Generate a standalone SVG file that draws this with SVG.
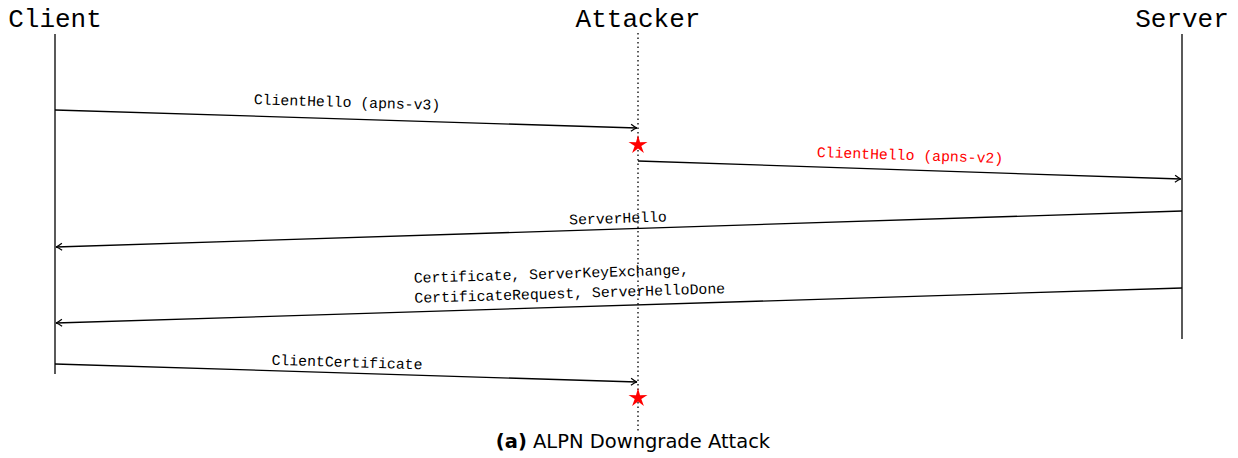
<svg xmlns="http://www.w3.org/2000/svg" width="1238" height="458" viewBox="0 0 1238 458">
<style>
.title{font-family:"Liberation Mono","DejaVu Sans Mono",monospace;font-size:26px;fill:#000}
.lbl{font-family:"Liberation Mono","DejaVu Sans Mono",monospace;font-size:14.8px;fill:#000}
.red{fill:#ff0000}
.life{stroke:#000;stroke-width:1.3;fill:none}
.dot{stroke:#000;stroke-width:1.3;stroke-dasharray:1.5 3;fill:none}
.msg{stroke:#000;stroke-width:1.3;fill:none;marker-end:url(#ah)}
.star{fill:#ff0000}
.cap{font-family:"DejaVu Sans","Liberation Sans",sans-serif;font-size:19.5px;fill:#000}
</style>
<defs>
<marker id="ah" viewBox="-8 -5 10 10" refX="0" refY="0" markerWidth="10" markerHeight="10" markerUnits="userSpaceOnUse" orient="auto">
<path d="M -6 -3.5 Q -2 -0.5 0 0 Q -2 0.5 -6 3.5" fill="none" stroke="#000" stroke-width="1.2"/>
</marker>
<polygon id="starshape" points="0,-10 2.0,-2.8 9.5,-3.1 3.3,1.1 5.9,8.1 0,3.5 -5.9,8.1 -3.3,1.1 -9.5,-3.1 -2.0,-2.8"/>
</defs>
<rect width="1238" height="458" fill="#fff"/>
<g id="client">
<text class="title" x="55" y="27" text-anchor="middle">Client</text>
<line class="life" x1="55" y1="34" x2="55" y2="374"/>
</g>
<g id="attacker">
<text class="title" x="638" y="27" text-anchor="middle">Attacker</text>
<line class="dot" x1="638" y1="33" x2="638" y2="432"/>
<use href="#starshape" class="star" x="638" y="145"/>
<use href="#starshape" class="star" x="638" y="398"/>
</g>
<g id="server">
<text class="title" x="1182" y="27" text-anchor="middle">Server</text>
<line class="life" x1="1182" y1="34" x2="1182" y2="339"/>
</g>
<g id="connectors">
<line class="msg" x1="55" y1="110" x2="637" y2="128"/>
<line class="msg" x1="638" y1="161" x2="1181" y2="179"/>
<line class="msg" x1="1182" y1="211" x2="56" y2="247"/>
<line class="msg" x1="1182" y1="288" x2="56" y2="323"/>
<line class="msg" x1="55" y1="364" x2="637" y2="382"/>
<text class="lbl" x="347" y="107" text-anchor="middle" transform="rotate(1.77 347 102)">ClientHello (apns-v3)</text>
<text class="lbl red" x="910" y="160" text-anchor="middle" transform="rotate(1.9 910 155)">ClientHello (apns-v2)</text>
<text class="lbl" x="618" y="223" text-anchor="middle" transform="rotate(-1.83 618 218)">ServerHello</text>
<g transform="rotate(-1.78 570 284)">
<text class="lbl" x="414" y="278">Certificate, ServerKeyExchange,</text>
<text class="lbl" x="414" y="298">CertificateRequest, ServerHelloDone</text>
</g>
<text class="lbl" x="347" y="367" text-anchor="middle" transform="rotate(1.77 347 362)">ClientCertificate</text>
</g>
<g id="caption">
<text class="cap" x="633" y="448" text-anchor="middle"><tspan font-weight="bold">(a)</tspan> ALPN Downgrade Attack</text>
</g>
</svg>
